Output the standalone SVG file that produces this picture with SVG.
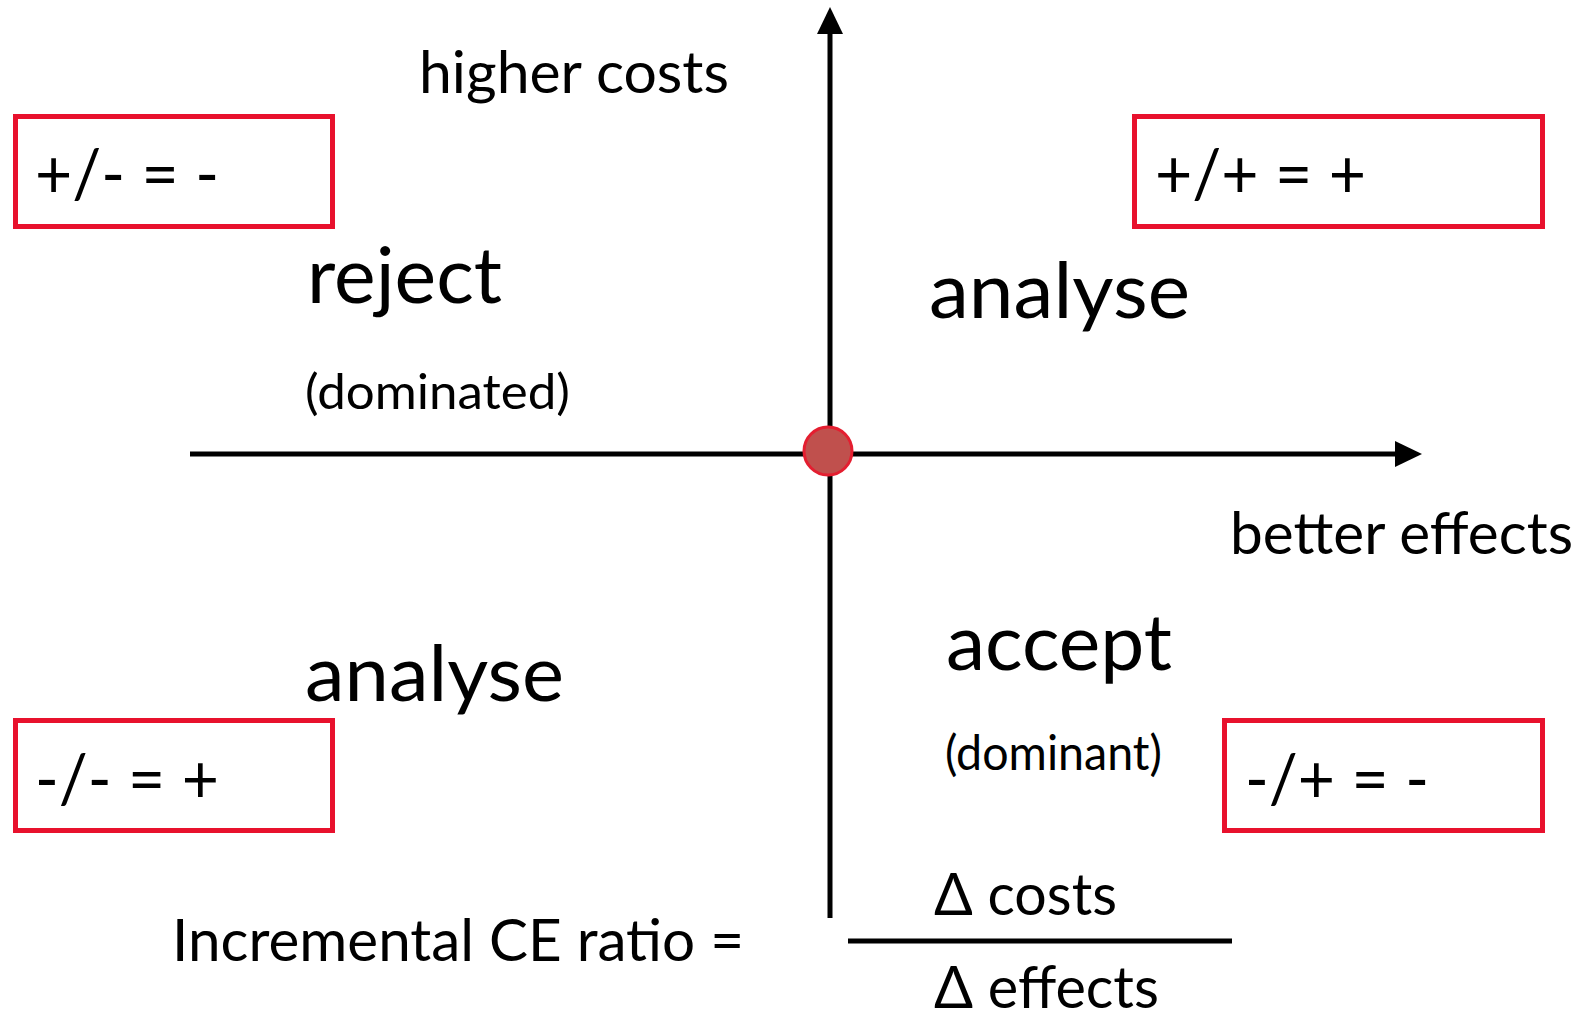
<svg xmlns="http://www.w3.org/2000/svg" width="1582" height="1016" viewBox="0 0 1582 1016">
<style>
text { font-family: Lato, "Liberation Sans", sans-serif; fill: #000; }
.mid { font-size: 58px; }
.big { font-size: 78px; }
.small { font-size: 49px; }
.box { font-size: 68px; }
.frame { fill: #fff; stroke: #E8112D; stroke-width: 5; }
.axis { stroke: #000; stroke-width: 5; fill: none; }
</style>
<rect width="1582" height="1016" fill="#fff"/>
<g id="connectors">
  <line class="axis" x1="830" y1="918" x2="830" y2="30"/>
  <polygon points="830,7 817,34 843,34" fill="#000"/>
  <line class="axis" x1="190" y1="454" x2="1398" y2="454"/>
  <polygon points="1422,454 1395,441 1395,467" fill="#000"/>
  <line class="axis" x1="848" y1="941" x2="1232" y2="941"/>
</g>
<g id="origin">
  <circle cx="828" cy="451" r="24" fill="#C0504D" stroke="#E41E30" stroke-width="3"/>
</g>
<g id="label-higher-costs"><text class="mid" x="419" y="93" textLength="310" lengthAdjust="spacingAndGlyphs">higher costs</text></g>
<g id="label-better-effects"><text class="mid" x="1230" y="554" textLength="343" lengthAdjust="spacingAndGlyphs">better effects</text></g>
<g id="box-tl"><rect class="frame" x="15.5" y="116.5" width="317" height="110"/><text class="box" x="35" y="198" textLength="184" lengthAdjust="spacingAndGlyphs">+/- = -</text></g>
<g id="box-tr"><rect class="frame" x="1134.5" y="116.5" width="408" height="110"/><text class="box" x="1155" y="198" textLength="211" lengthAdjust="spacingAndGlyphs">+/+ = +</text></g>
<g id="box-bl"><rect class="frame" x="15.5" y="720.5" width="317" height="110"/><text class="box" x="35" y="803" textLength="184" lengthAdjust="spacingAndGlyphs">-/- = +</text></g>
<g id="box-br"><rect class="frame" x="1224.5" y="720.5" width="318" height="110"/><text class="box" x="1245" y="803" textLength="184" lengthAdjust="spacingAndGlyphs">-/+ = -</text></g>
<g id="q-reject">
  <text class="big" x="307" y="303" textLength="195" lengthAdjust="spacingAndGlyphs">reject</text>
  <text class="small" x="305" y="409" textLength="265" lengthAdjust="spacingAndGlyphs">(dominated)</text>
</g>
<g id="q-analyse-tr"><text class="big" x="929" y="318" textLength="261" lengthAdjust="spacingAndGlyphs">analyse</text></g>
<g id="q-analyse-bl"><text class="big" x="305" y="701" textLength="259" lengthAdjust="spacingAndGlyphs">analyse</text></g>
<g id="q-accept">
  <text class="big" x="946" y="670" textLength="226" lengthAdjust="spacingAndGlyphs">accept</text>
  <text class="small" x="945" y="770" textLength="217" lengthAdjust="spacingAndGlyphs">(dominant)</text>
</g>
<g id="formula">
  <text class="mid" x="172" y="961" textLength="572" lengthAdjust="spacingAndGlyphs">Incremental CE ratio =</text>
  <text class="mid" x="934" y="915" textLength="183" lengthAdjust="spacingAndGlyphs">Δ costs</text>
  <text class="mid" x="934" y="1008" textLength="225" lengthAdjust="spacingAndGlyphs">Δ effects</text>
</g>
</svg>
